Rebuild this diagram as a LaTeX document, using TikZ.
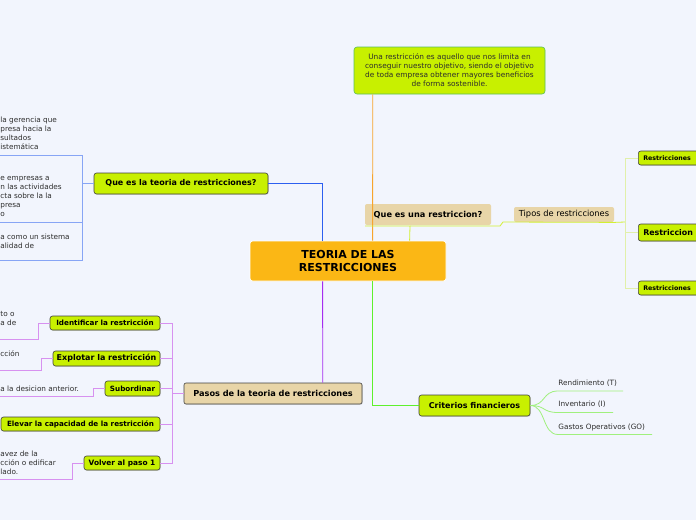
\documentclass[tikz,border=0pt]{standalone}
\usepackage{fontspec}
\setmainfont{DejaVu Sans}
\usetikzlibrary{positioning, calc, shadows}
\definecolor{mapbg}{RGB}{242, 245, 253}
\definecolor{maporange}{RGB}{251, 183, 21}
\definecolor{maplime}{RGB}{200, 240, 0}
\definecolor{maptan}{RGB}{232, 213, 168}
\definecolor{mapblue}{RGB}{45, 95, 240}
\definecolor{mapsky}{RGB}{135, 165, 245}
\definecolor{mapamber}{RGB}{247, 165, 45}
\definecolor{mappurple}{RGB}{165, 45, 240}
\definecolor{maplilac}{RGB}{215, 145, 240}
\definecolor{mapgreen}{RGB}{95, 240, 45}
\definecolor{mapmint}{RGB}{160, 240, 125}
\definecolor{mapyellow}{RGB}{210, 240, 50}
\definecolor{mappale}{RGB}{225, 240, 170}
\definecolor{mapborder}{RGB}{90, 190, 90}
\definecolor{maptext}{RGB}{45, 45, 45}

\begin{document}
\begin{tikzpicture}[x=1pt, y=-1pt,
    mainbox/.style={fill=maporange, draw=white, line width=0.8pt, rounded corners=2.5pt, align=center, font=\fontsize{11}{13}\selectfont\bfseries},
    limebox/.style={fill=maplime, draw=black!75, line width=0.6pt, rounded corners=2.5pt, inner sep=0pt, font=\fontsize{8}{9}\selectfont\bfseries, drop shadow={shadow xshift=0.7pt, shadow yshift=-0.7pt, opacity=0.35}},
    stepbox/.style={limebox, font=\fontsize{7.2}{8}\selectfont\bfseries},
    edgebox/.style={limebox, anchor=west, inner xsep=5pt, text width=62pt, align=left},
    tanbox/.style={fill=maptan, rounded corners=2pt, inner sep=0pt, font=\fontsize{8.2}{9}\selectfont\bfseries},
    callbox/.style={fill=maplime, draw=mapborder, line width=0.6pt, rounded corners=3pt, align=center, inner sep=0pt, font=\fontsize{7.4}{9}\selectfont, text=maptext},
    txt/.style={font=\fontsize{7.3}{9}\selectfont, text=maptext, inner sep=0pt, align=left, anchor=north west},
    line width=0.8pt]

    \clip (0,0) rectangle (696,520);
    \fill[mapbg] (0,0) rectangle (696,520);

    % Main topic and branches
    \node[mainbox, minimum width=196, minimum height=40] (teoria) at (348,261) {TEORIA DE LAS\\RESTRICCIONES};
    \node[limebox, minimum width=174, minimum height=21] (quees) at (181,183.5) {Que es la teoria de restricciones?};
    \node[tanbox, minimum width=126, minimum height=21] (unarestr) at (428,214.5) {Que es una restriccion?};
    \node[callbox, minimum width=191, minimum height=47] (callout) at (449.5,70.5) {Una restricción es aquello que nos limita en\\conseguir nuestro objetivo, siendo el objetivo\\de toda empresa obtener mayores beneficios\\de forma sostenible.};
    \node[tanbox, font=\fontsize{8.3}{9}\selectfont, minimum width=100, minimum height=15] (tipos) at (564,214.5) {Tipos de restricciones};
    \node[tanbox, draw=black!75, line width=0.6pt, minimum width=178, minimum height=21, drop shadow={shadow xshift=0.7pt, shadow yshift=-0.7pt, opacity=0.35}] (pasos) at (273,393.5) {Pasos de la teoria de restricciones};
    \node[limebox, minimum width=111, minimum height=21] (criterios) at (474.5,405.5) {Criterios financieros};

    % Types of restrictions (boxes run past the right edge)
    \node[edgebox, minimum height=14, font=\fontsize{6.3}{8}\selectfont\bfseries] (rtop) at (638,158) {Restricciones};
    \node[edgebox, minimum height=17, font=\fontsize{7.9}{9}\selectfont\bfseries] (rmid) at (638,232.5) {Restriccion};
    \node[edgebox, minimum height=14, font=\fontsize{6.3}{8}\selectfont\bfseries] (rbot) at (638,288) {Restricciones};

    % Steps
    \node[stepbox, minimum width=110, minimum height=14] (ident) at (105,323) {Identificar la restricción};
    \node[stepbox, font=\fontsize{8}{9}\selectfont\bfseries, minimum width=107, minimum height=15] (explot) at (106.5,358.5) {Explotar la restricción};
    \node[stepbox, minimum width=55, minimum height=15] (subord) at (132.5,388.5) {Subordinar};
    \node[stepbox, minimum width=159, minimum height=14] (elevar) at (80.5,424) {Elevar la capacidad de la restricción};
    \node[stepbox, font=\fontsize{7.4}{8}\selectfont\bfseries, minimum width=76, minimum height=14] (volver) at (122,463) {Volver al paso 1};

    % Texts of the left topics
    \node[txt] (defa) at (0,117) {la gerencia que\\presa hacia la\\sultados\\istemática};
    \node[txt] (defb) at (0,176) {e empresas a\\n las actividades\\cta sobre la la\\presa\\o};
    \node[txt] (defc) at (0,234) {a como un sistema\\alidad de};
    \node[txt] (texident) at (0,310.5) {to o\\a de};
    \node[txt] (texexplot) at (0,350.5) {cción};
    \node[txt] (texsubord) at (0,385.5) {a la desicion anterior.};
    \node[txt] (texvolver) at (0,451) {avez de la\\cción o edificar\\lado.};

    % Financial criteria
    \node[txt] (rend) at (558,379.5) {Rendimiento (T)};
    \node[txt] (inv) at (558,401) {Inventario (I)};
    \node[txt] (gastos) at (558,423.5) {Gastos Operativos (GO)};

    % Blue branch
    \coordinate (bknee) at ($(quees.west)+(-11,0)$);
    \draw[mapblue] ($(teoria.north west)+(73,0)$) |- (quees.east);
    \draw[mapsky] (quees.west) -- (bknee);
    \draw[mapsky] (0,155) -| (bknee) |- (0,260);
    \draw[mapsky] (0,222) -- (83,222);

    % Orange and yellow branch
    \draw[mapamber] ($(teoria.north west)+(123,0)$) -- ($(callout.south west)+(19,0)$);
    \draw[mapyellow] ($(teoria.north west)+(160,0)$) -- (410,226) -- (365,226);
    \draw[mapyellow] (410,226) -- (500,226) -- (503,222) -- (tipos.south east) -- (625,222);
    \foreach \r in {rtop, rmid, rbot}
        \draw[mappale] (\r.west) -| (625,222);

    % Purple branch
    \coordinate (pknee) at ($(pasos.west)+(-11,0)$);
    \draw[mappurple] ($(teoria.south west)+(73,0)$) -- ($(pasos.north west)+(139,0)$);
    \draw[maplilac] (pasos.west) -- (pknee);
    \foreach \s in {ident, explot, subord, elevar, volver}
        \draw[maplilac] (\s.east) -| (pknee);
    \draw[maplilac] (ident.west) -- ++(-11,0) |- (0,339);
    \draw[maplilac] (explot.west) -- ++(-11,0) |- (0,370);
    \draw[maplilac] (subord.west) -- ++(-11,0) |- (0,396);
    \draw[maplilac] (volver.west) -- ++(-11,0) |- (0,479);

    % Green branch
    \draw[mapgreen] ($(teoria.south west)+(123,0)$) |- (criterios.west);
    \draw[mapmint] (criterios.east) .. controls (546,405.5) and (542,391) .. (558,391) -- (623,391);
    \draw[mapmint] (criterios.east) .. controls (546,405.5) and (542,412.5) .. (558,412.5) -- (613,412.5);
    \draw[mapmint] (criterios.east) .. controls (546,405.5) and (542,434.5) .. (558,434.5) -- (652,434.5);
\end{tikzpicture}
\end{document}
